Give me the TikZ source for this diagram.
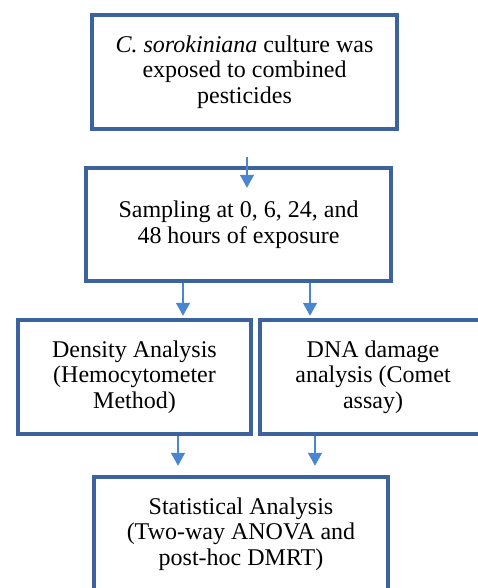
\documentclass[tikz,border=0pt]{standalone}
\usepackage{fontspec}
\setmainfont{Liberation Serif}
\usetikzlibrary{arrows.meta, calc}
\definecolor{boxblue}{RGB}{61,99,158}
\definecolor{arrowblue}{RGB}{74,134,208}

\begin{document}
\begin{tikzpicture}[x=1pt, y=-1pt,
        stepbox/.style={draw=boxblue, line width=4.5pt, align=center, inner sep=0pt,
            font=\fontsize{24}{25.5}\selectfont},
        flowarrow/.style={draw=arrowblue, line width=1.6pt, -{Triangle[width=14pt,length=13pt]}}]
            \useasboundingbox (0,0) rectangle (477,588);
            \node[stepbox, minimum width=305pt, minimum height=114pt] (culture) at (244.5,72)
                {\textit{C. sorokiniana} culture was\\ exposed to combined\\ pesticides};
            \node[stepbox, minimum width=305pt, minimum height=113pt] (sampling) at (238.5,224.5)
                {Sampling at 0, 6, 24, and\\ 48 hours of exposure};
            \node[stepbox, minimum width=233pt, minimum height=114pt] (density) at (134.5,377)
                {Density Analysis\\ (Hemocytometer\\ Method)};
            \node[stepbox, minimum width=226pt, minimum height=114pt] (dna) at (373,377)
                {DNA damage\\ analysis (Comet\\ assay)};
            \node[stepbox, minimum width=294pt, minimum height=114pt] (stats) at (241,534)
                {Statistical Analysis\\ (Two-way ANOVA and\\ post-hoc DMRT)};
            % arrow between the first two boxes
            \coordinate (feed) at ([xshift=2.5pt, yshift=-26pt]culture.south);
            \coordinate (feedtip) at ([yshift=-22pt]feed |- sampling.north);
            \draw[flowarrow] (feed) -- (feedtip);
            \foreach \dx/\target in {-55.5/density, 71.5/dna}
                \draw[flowarrow, shorten >=2pt] ([xshift=\dx pt]sampling.south) -- ([xshift=\dx pt]sampling.south |- \target.north);
            \foreach \dx/\source in {43.5/density, -58/dna}
                \draw[flowarrow, shorten >=9pt] ([xshift=\dx pt]\source.south) -- ([xshift=\dx pt]\source.south |- stats.north);
        \end{tikzpicture}
\end{document}
